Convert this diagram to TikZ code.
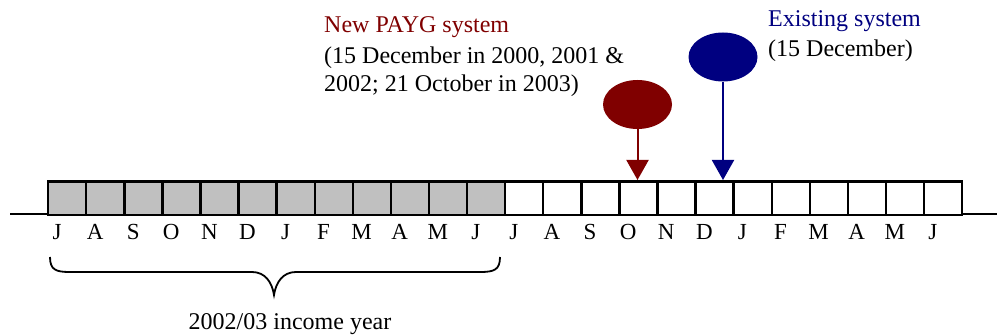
\documentclass[tikz,border=0pt]{standalone}
\usepackage{fontspec}
\setmainfont{Liberation Serif}
\usetikzlibrary{shapes.geometric,arrows.meta}
\definecolor{paygred}{HTML}{800000}
\definecolor{oldblue}{HTML}{000080}
\definecolor{boxgrey}{HTML}{C0C0C0}

\begin{document}
\begin{tikzpicture}[x=1pt, y=-1pt,
	monthbox/.style = {draw, line width=2.4pt, anchor=north west, minimum width=38.08pt, minimum height=33.5pt, inner sep=0},
	monthlabel/.style = {anchor=base, inner sep=0, font=\fontsize{23}{28}\selectfont},
	note/.style = {anchor=base west, inner sep=0, font=\fontsize{24}{30}\selectfont},
	pin/.style = {ellipse, minimum width=69pt, minimum height=49pt, inner sep=0},
	pinline/.style = {line width=2pt, -{Triangle[length=20pt, width=22pt]}}]
	\useasboundingbox (0,0) rectangle (997,336);
	\coordinate (axisL) at (10,214);
	\coordinate (axisR) at (997,214);
	\draw [line width=2pt] (axisL) -- (axisR);
	\foreach \m [count=\i from 0] in {J,A,S,O,N,D,J,F,M,A,M,J} {
		\node [monthbox, fill=boxgrey] (box\i) at (47+38.08*\i,180.5) {};
		\node [monthlabel] (mon\i) at (57+38.08*\i,240) {\m};
	}
	\foreach \m [count=\i from 12] in {J,A,S,O,N,D,J,F,M,A,M,J} {
		\node [monthbox, fill=white] (box\i) at (47+38.08*\i,180.5) {};
		\node [monthlabel] (mon\i) at (57+38.08*\i,240) {\m};
	}
	\node [note, text=paygred] (paygtitle) at (324,33) {New PAYG system};
	\node [note] (paygdates) at (324,64) {(15 December in 2000, 2001 \&};
	\node [note] (paygdates2) at (324,92) {2002; 21 October in 2003)};
	\node [note, text=oldblue] (oldtitle) at (768,27) {Existing system};
	\node [note] (olddate) at (768,57) {(15 December)};
	\node [pin, fill=paygred] (paygpin) at (637.5,104.5) {};
	\node [pin, fill=oldblue] (oldpin) at (723,57) {};
	\coordinate (paygtip) at (637.5,180);
	\coordinate (oldtip) at (723,180);
	\draw [pinline, paygred] (paygpin.south) -- (paygtip);
	\draw [pinline, oldblue] (oldpin.south) -- (oldtip);
	\coordinate (braceL) at (50,257);
	\coordinate (braceR) at (500,257);
	\draw [line width=1.8pt] (braceL) .. controls (50,270) and (56,272) .. (70,272) -- (252,272)
		.. controls (265,272) and (272,282) .. (274,295) .. controls (276,282) and (283,272) .. (296,272)
		-- (480,272) .. controls (494,272) and (500,270) .. (braceR);
	\node [note, anchor=base] (yearlabel) at (290,330) {2002/03 income year};
\end{tikzpicture}
\end{document}
